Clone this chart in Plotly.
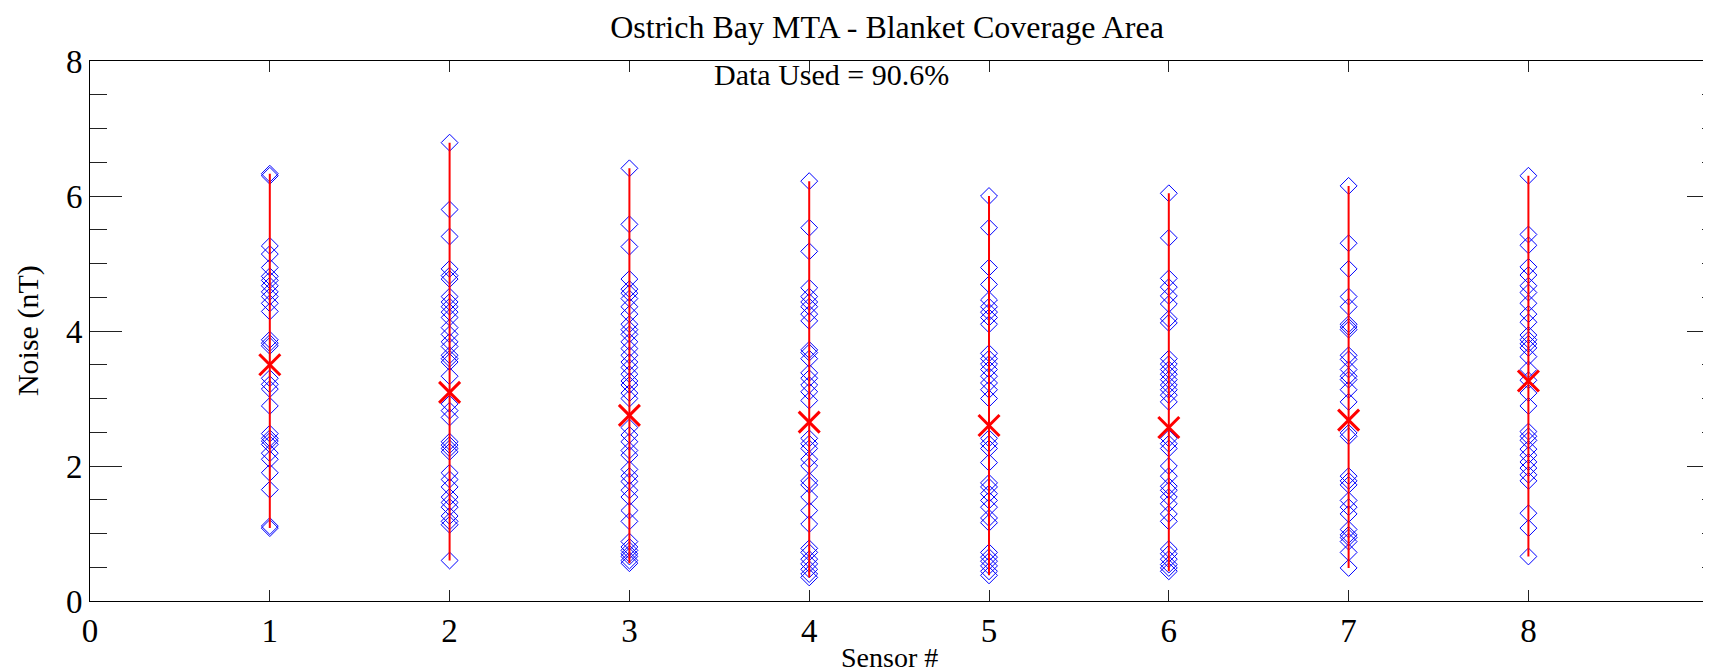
import plotly.graph_objects as go

sensors = [1, 2, 3, 4, 5, 6, 7, 8]
x_tick_vals = [0, 1, 2, 3, 4, 5, 6, 7, 8]
x_tick_labels = ["0", "1", "2", "3", "4", "5", "6", "7", "8"]

s1 = [6.30, 6.33, 5.26, 5.14, 4.94, 4.81, 4.75, 4.67, 4.58, 4.51, 4.41, 4.29, 3.87, 3.82, 3.78,
      3.30, 3.21, 3.14, 2.89, 2.48, 2.41, 2.37, 2.32, 2.19, 2.10, 1.90, 1.65, 1.11, 1.08]
s2 = [6.79, 5.80, 5.40, 4.92, 4.82, 4.77, 4.51, 4.43, 4.36, 4.28, 4.20, 4.05, 3.95, 3.84, 3.77,
      3.64, 3.59, 3.54, 3.33, 2.92, 2.82, 2.72, 2.36, 2.31, 2.26, 2.21, 1.90, 1.80, 1.69, 1.54,
      1.46, 1.39, 1.26, 1.18, 1.13, 0.60]
s3 = [6.41, 5.58, 5.25, 4.77, 4.62, 4.56, 4.48, 4.36, 4.25, 4.10, 4.02, 3.95, 3.84, 3.74, 3.64,
      3.54, 3.46, 3.36, 3.26, 3.20, 3.08, 3.00, 2.57, 2.46, 2.36, 2.23, 2.16, 1.95, 1.85, 1.77,
      1.64, 1.54, 1.34, 1.18, 0.88, 0.80, 0.75, 0.70, 0.66, 0.60, 0.56]
s4 = [6.22, 5.53, 5.18, 4.64, 4.51, 4.43, 4.36, 4.25, 4.15, 3.72, 3.68, 3.59, 3.38, 3.30, 3.20,
      3.10, 2.97, 2.41, 2.33, 2.26, 2.10, 2.00, 1.78, 1.72, 1.54, 1.34, 1.14, 0.78, 0.72, 0.62,
      0.55, 0.47, 0.40, 0.35]
s5 = [6.00, 5.53, 4.94, 4.69, 4.46, 4.36, 4.28, 4.20, 4.10, 3.67, 3.59, 3.51, 3.43, 3.33, 3.23,
      3.13, 3.00, 2.41, 2.33, 2.26, 2.05, 1.75, 1.69, 1.59, 1.49, 1.39, 1.23, 1.16, 0.72, 0.65,
      0.59, 0.52, 0.44, 0.38]
s6 = [6.04, 5.38, 4.78, 4.65, 4.52, 4.40, 4.18, 4.12, 3.59, 3.51, 3.43, 3.36, 3.28, 3.20, 3.13,
      3.05, 2.95, 2.41, 2.33, 2.26, 2.00, 1.85, 1.70, 1.64, 1.54, 1.44, 1.29, 1.18, 0.77, 0.70,
      0.62, 0.54, 0.49, 0.44]
s7 = [6.15, 5.30, 4.92, 4.51, 4.36, 4.10, 4.06, 4.02, 3.64, 3.58, 3.43, 3.33, 3.28, 3.13, 2.95,
      2.49, 2.44, 1.85, 1.78, 1.72, 1.49, 1.39, 1.29, 1.06, 0.98, 0.94, 0.88, 0.72, 0.49]
s8 = [6.30, 5.43, 5.27, 4.95, 4.83, 4.67, 4.57, 4.41, 4.25, 4.13, 3.94, 3.87, 3.81, 3.75, 3.62,
      3.43, 3.27, 3.08, 2.89, 2.51, 2.44, 2.38, 2.25, 2.16, 2.06, 1.97, 1.87, 1.78, 1.30, 1.08, 0.66]

mean_noise = [3.50, 3.09, 2.75, 2.65, 2.60, 2.57, 2.68, 3.26]

series = [s1, s2, s3, s4, s5, s6, s7, s8]

FONT = "Liberation Serif, Times New Roman, serif"
TICKC = "#222222"

px, py = [], []
for s, vals in zip(sensors, series):
    px += [s] * len(vals)
    py += vals

lx, ly = [], []
for s, vals in zip(sensors, series):
    lx += [s, s, None]
    ly += [min(vals), max(vals), None]

fig = go.Figure()
fig.add_trace(go.Scatter(
    x=px, y=py, mode="markers",
    marker=dict(symbol="diamond-open", size=13, color="#0000FF", line=dict(width=1, color="#0000FF")),
    showlegend=False, cliponaxis=False))
fig.add_trace(go.Scatter(
    x=lx, y=ly, mode="lines", line=dict(color="#FF0000", width=2),
    showlegend=False, yaxis="y3"))
fig.add_trace(go.Scatter(
    x=sensors, y=mean_noise, mode="markers",
    marker=dict(symbol="x-thin-open", size=21, color="#FF0000", line=dict(width=3, color="#FF0000")),
    showlegend=False, yaxis="y2"))

fig.add_annotation(x=3.46, y=7.8, xref="x", yref="y", text="Data Used = 90.6%",
                   showarrow=False, xanchor="left", yanchor="middle",
                   font=dict(family=FONT, size=30, color="black"))
fig.add_annotation(x=0.491, y=-0.104, xref="paper", yref="paper", text="Sensor #",
                   showarrow=False, xanchor="center", yanchor="middle",
                   font=dict(family=FONT, size=28, color="black"))
fig.add_annotation(x=-0.038, y=0.5, xref="paper", yref="paper", text="Noise (nT)",
                   showarrow=False, xanchor="center", yanchor="middle", textangle=-90,
                   font=dict(family=FONT, size=30, color="black"))

major_ticks = dict(range=[0, 8], tickmode="linear", tick0=0, dtick=2,
                   ticks="inside", ticklen=32, tickwidth=1, tickcolor=TICKC,
                   showticklabels=False, showline=False, showgrid=False, zeroline=False,
                   automargin=False, anchor="x")

fig.update_layout(
    width=1711, height=672,
    margin=dict(l=82, r=0, t=53, b=79, autoexpand=False),
    paper_bgcolor="white", plot_bgcolor="white",
    title=dict(text="Ostrich Bay MTA - Blanket Coverage Area", x=0.4893, xref="paper",
               xanchor="center", y=0.972, yref="container", yanchor="middle",
               font=dict(family=FONT, size=32, color="black")),
    font=dict(family=FONT, color="black"),
    yaxis2=dict(overlaying="y", side="left", **major_ticks),
    yaxis3=dict(overlaying="y", side="right", **major_ticks),
)
fig.update_xaxes(
    range=[0, 9.06], tickmode="array", tickvals=x_tick_vals, ticktext=x_tick_labels,
    ticks="inside", ticklen=11, tickwidth=1, tickcolor=TICKC,
    showline=True, linecolor="black", linewidth=1, mirror="ticks",
    showgrid=False, zeroline=False, automargin=False,
    tickfont=dict(family=FONT, size=33, color="black"),
)
fig.update_layout(yaxis=dict(
    range=[0, 8], tickmode="linear", tick0=0, dtick=2,
    ticks="inside", ticklen=17, tickwidth=1, tickcolor=TICKC,
    minor=dict(tickmode="linear", tick0=0, dtick=0.5, ticks="inside", ticklen=17,
               tickwidth=1, tickcolor=TICKC, showgrid=False),
    showline=True, linecolor="black", linewidth=1, mirror="ticks",
    showgrid=False, zeroline=False, automargin=False,
    tickfont=dict(family=FONT, size=33, color="black"),
))

fig.write_html("out.html")
